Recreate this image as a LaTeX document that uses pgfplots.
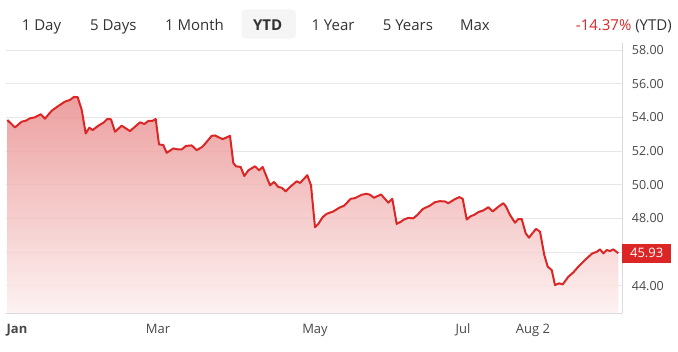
\documentclass[border=0pt]{standalone}
\usepackage{pgfplots}
\pgfplotsset{compat=1.18}
\usepackage{pgfplotstable}
\usepackage{fontspec}
\setmainfont{Open Sans}
\definecolor{linered}{RGB}{220,38,38}
\definecolor{topc}{RGB}{233,143,143}
\definecolor{botc}{RGB}{253,239,239}
\definecolor{gridc}{RGB}{230,230,230}
\definecolor{axc}{RGB}{218,218,218}
\definecolor{txt}{RGB}{51,51,51}
\definecolor{tick}{RGB}{72,72,72}
\definecolor{btnbg}{RGB}{245,245,245}
\pgfplotstableread{
x y
7.3 53.84
15 53.40
21.7 53.74
26 53.80
30 53.94
35 54.00
40.7 54.18
45 53.92
51.7 54.39
58.3 54.67
65 54.93
70 55.03
74 55.21
77.7 55.19
81.7 54.44
85.7 53.04
89.3 53.38
92.7 53.24
98.3 53.50
104 53.70
107.3 53.90
111 53.88
115 53.14
121.7 53.50
130 53.18
135 53.44
140 53.70
144.3 53.60
148.3 53.78
152.3 53.78
155.7 53.90
159 52.39
163.3 52.35
166.7 51.89
173.3 52.15
178.3 52.09
181.7 52.09
186 52.30
191.7 52.33
196.7 52.05
201.7 52.22
205 52.42
211.7 52.90
215 52.92
222.7 52.70
230 52.90
233.3 51.29
236 51.09
240.7 51.05
244.3 50.51
248.3 50.85
255 51.09
259 50.85
262.7 51.05
270 49.96
274 50.16
278.3 49.86
281.7 49.82
285.7 49.60
290 49.86
296.7 50.20
300 50.10
307.3 50.56
311 49.96
315 47.47
318.3 47.67
322.7 48.07
326.7 48.27
333.3 48.41
339.3 48.63
344.3 48.76
350.7 49.16
355 49.20
361.7 49.40
366.7 49.46
370 49.40
374 49.22
381 49.42
388.3 48.93
392.3 49.16
396.7 47.67
400 47.77
404 47.93
408.3 48.03
413.3 48.00
417.3 48.20
422.7 48.55
430 48.76
435 48.96
440 49.02
445 49.00
448.3 48.90
454.3 49.12
459.3 49.26
462.7 49.16
466.7 47.93
470.7 48.13
474 48.20
478.3 48.37
483.3 48.47
488.3 48.66
492.7 48.41
497.7 48.66
503.3 48.90
506 48.70
510 48.20
515 47.74
518.3 47.96
521.7 47.96
525.7 47.11
529 46.85
532.3 47.11
536 47.37
540 47.21
544.3 45.82
547.7 45.13
551.7 44.93
555 44.04
559 44.14
562.7 44.08
568.3 44.53
573.3 44.79
578.3 45.13
585 45.53
592.3 45.92
596.7 46.01
600 46.16
603.3 45.92
606.7 46.12
610 46.06
613.3 46.16
618.3 45.93
}\pricedata
\begin{document}
\begin{tikzpicture}[x=1bp,y=1bp]
\useasboundingbox (0,0) rectangle (678,351);
% range buttons
\fill[btnbg, rounded corners=4bp] (241.5,351-38.5) rectangle (296,351-9.5);
\begin{scope}[every node/.style={anchor=base, inner sep=0, font=\fontsize{15bp}{18bp}\selectfont, text=txt}]
\node at (41.5,320.5) {1 Day};
\node at (113.3,320.5) {5 Days};
\node at (194.5,320.5) {1 Month};
\node at (267.7,320.5) {\bfseries YTD};
\node at (333,320.5) {1 Year};
\node at (407.9,320.5) {5 Years};
\node at (474.9,320.5) {Max};
\node[anchor=base east] at (672,320.5) {\textcolor{linered}{-14.37\%} (YTD)};
\end{scope}
\begin{axis}[
  at={(6bp,38bp)}, anchor=south west,
  scale only axis, width=616bp, height=270bp,
  xmin=6, xmax=622, ymin=42.38, ymax=58.41,
  axis x line*=bottom, axis y line*=right,
  axis line style={draw=axc, line width=0.8bp},
  major tick length=0pt,
  ytick={44,46,48,50,52,54,56,58},
  yticklabels={44.00,,48.00,50.00,52.00,54.00,56.00,58.00},
  yticklabel style={anchor=west, inner sep=0pt, xshift=9.7bp, text=tick, font=\fontsize{12.5bp}{15bp}\selectfont},
  xtick={17,158,315,463,533},
  xticklabels={\textbf{Jan},Mar,May,Jul,Aug 2},
  xticklabel style={anchor=base, inner sep=0pt, yshift=-20bp, text=tick, font=\fontsize{13bp}{15bp}\selectfont},
  ymajorgrids, major grid style={draw=gridc, line width=0.8bp},
  /pgf/number format/assume math mode=true,
  clip mode=individual,
]
\addplot[draw=none, top color=topc, bottom color=botc, fill opacity=0.85] table[x=x,y=y] {\pricedata} |- (axis cs:7.3,42.38) -- cycle;
\addplot[linered, line width=2bp, line join=round, mark=none] table[x=x,y=y] {\pricedata};
\node[anchor=west, fill=linered, text=white, inner sep=0pt, minimum width=49bp, minimum height=19bp, font=\fontsize{13bp}{15bp}\selectfont] at (axis cs:622,45.93) {45.93};
\end{axis}
\end{tikzpicture}
\end{document}
